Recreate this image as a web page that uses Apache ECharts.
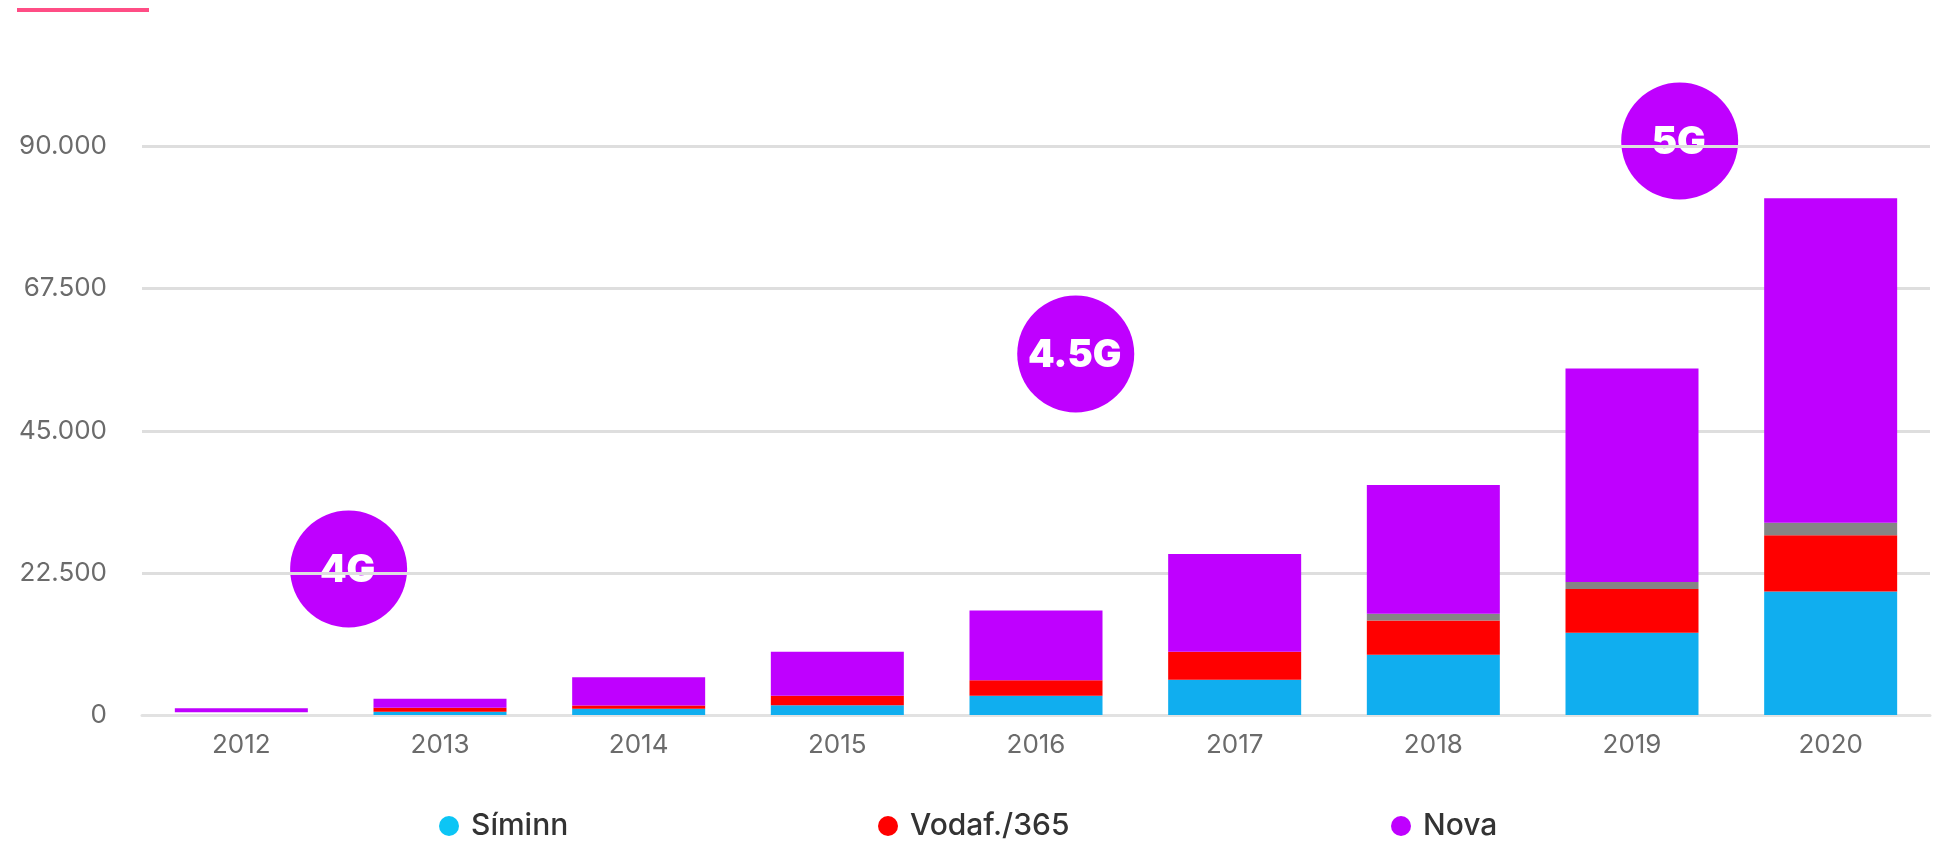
<!DOCTYPE html>
<html>
<head>
<meta charset="utf-8" />
<title>Gagnamagn</title>
<script src="https://cdn.jsdelivr.net/npm/echarts@6/dist/echarts.min.js"></script>
<style>
html, body { margin: 0; padding: 0; background: #fff; }
#main { width: 1944px; height: 842px; }
</style>
</head>
<body>
<div id="main"></div>
<script>
var years = ['2012', '2013', '2014', '2015', '2016', '2017', '2018', '2019', '2020'];
var yTicks = [0, 22500, 45000, 67500, 90000];

// lesið af myndinni
var spacer = [450, 0, 0, 0, 0, 0, 0, 0, 0]; // 2012 bar floats a little above the axis
var siminn = [0, 500, 980, 1560, 3040, 5570, 9530, 13020, 19570];
var vodafone = [0, 640, 520, 1480, 2470, 4440, 5440, 6910, 8870];
var other = [0, 0, 0, 0, 0, 0, 1060, 1110, 2010];
var nova = [630, 1430, 4490, 6980, 11050, 15470, 20380, 33830, 51350];

// position of the G badges, x counted in category bands from the left edge
var badgeLabels = ['4G', '4.5G', '5G'];
var badgeX = [1.04, 4.70, 7.74];
var badgeY = [23110, 57150, 90860];

var BLUE = '#10aeef', RED = '#ff0000', PURPLE = '#bf00ff', GREY = '#858585';
var FONT = 'Inter';

function barSeries(name, data, color) {
    return {
        name: name,
        type: 'bar',
        stack: 'total',
        barWidth: 133,
        data: data,
        itemStyle: { color: color }
    };
}

// one legend per entry, the gaps are not even in the original
function legendItem(name, color, left) {
    return {
        left: left,
        top: 806,
        icon: 'circle',
        itemWidth: 20,
        itemHeight: 20,
        textStyle: { fontFamily: FONT, fontSize: 30, fontWeight: 500, color: '#333', padding: [0, 0, 0, 7] },
        data: [{ name: name, itemStyle: { color: color } }]
    };
}

var chart = echarts.init(document.getElementById('main'));
chart.setOption({
    animation: false,
    backgroundColor: '#fff',
    grid: { left: 142, right: 14, top: 146.5, bottom: 127, containLabel: false },
    legend: [
        legendItem('Síminn', '#0cc5f5', 434),
        legendItem('Vodaf./365', RED, 873),
        legendItem('Nova', PURPLE, 1386)
    ],
    xAxis: [
        {
            type: 'category',
            data: years,
            axisLine: { lineStyle: { color: '#e2e2e2', width: 3 } },
            axisTick: { show: false },
            axisLabel: { fontFamily: FONT, fontSize: 26, color: '#6b6b6b', margin: 17 }
        },
        { type: 'value', min: 0, max: years.length, show: false }
    ],
    yAxis: {
        type: 'value',
        min: yTicks[0],
        max: yTicks[yTicks.length - 1],
        interval: yTicks[1],
        axisLine: { show: false },
        axisTick: { show: false },
        splitLine: { lineStyle: { color: '#dedede', width: 3 } },
        axisLabel: {
            fontFamily: FONT,
            fontSize: 26,
            color: '#6b6b6b',
            margin: 35,
            formatter: function (v) { return String(v).replace(/\B(?=(\d{3})+$)/g, '.'); }
        }
    },
    graphic: [{
        type: 'rect',
        shape: { x: 17, y: 8, width: 132, height: 4 },
        style: { fill: '#ff4d85' }
    }],
    series: [
        barSeries('bil', spacer, 'transparent'),
        barSeries('Síminn', siminn, BLUE),
        barSeries('Vodaf./365', vodafone, RED),
        barSeries('Annað', other, GREY),
        barSeries('Nova', nova, PURPLE),
        {
            // under the grid lines on purpose, the lines cross the badges in the original
            name: 'badges',
            type: 'scatter',
            xAxisIndex: 1,
            z: -1,
            clip: false,
            symbolSize: 117,
            itemStyle: { color: PURPLE, opacity: 1 },
            label: {
                show: true,
                position: 'inside',
                offset: [-1, 2],
                fontFamily: FONT,
                fontSize: 38,
                fontWeight: 900,
                color: '#fff',
                formatter: function (p) { return badgeLabels[p.dataIndex]; }
            },
            data: badgeX.map(function (x, i) { return [x, badgeY[i]]; })
        }
    ]
});
</script>
</body>
</html>
